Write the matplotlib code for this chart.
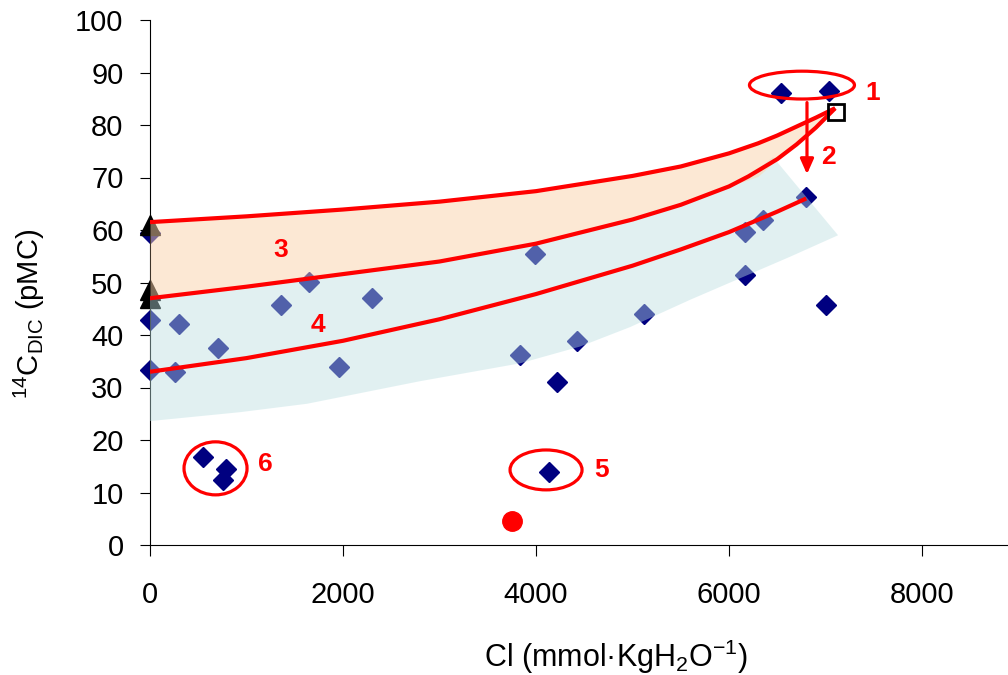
import matplotlib.pyplot as plt
from matplotlib.patches import Ellipse, Polygon

plt.rcParams['font.family'] = ['Liberation Sans', 'DejaVu Sans']
plt.rcParams['mathtext.fontset'] = 'custom'
plt.rcParams['mathtext.rm'] = 'Liberation Sans'
plt.rcParams['mathtext.it'] = 'Liberation Sans:italic'

# samples (diamonds)
cl = [0, 0, 0, 300, 260, 705, 1357, 1648, 1958, 2300, 3990, 3834, 4218, 4425,
      5119, 6166, 6352, 6166, 6798, 7005, 6539, 7036, 4135, 549, 788, 756]
c14 = [33.3, 42.9, 59.5, 42.1, 33.0, 37.5, 45.7, 50.1, 33.9, 47.0, 55.4, 36.2, 31.0, 38.9,
       44.0, 59.6, 61.9, 51.4, 66.3, 45.7, 86.1, 86.5, 13.9, 16.8, 14.5, 12.4]

# end members
tri_x = [0, 0, 0]
tri_y = [61.0, 48.5, 47.0]
sq_x = [7109]
sq_y = [82.5]
dot_x = [3751]
dot_y = [4.6]

# mixing curves
up_x = [0, 1000, 2000, 3000, 4000, 5000, 5500, 6000, 6300, 6500, 6700, 6900, 7100]
up_y = [61.5, 62.6, 63.9, 65.4, 67.4, 70.3, 72.1, 74.6, 76.5, 78.0, 79.7, 81.4, 83.2]
mid_x = [0, 1000, 2000, 3000, 4000, 5000, 5500, 6000, 6200, 6500, 6700, 6900, 7100]
mid_y = [47.0, 49.2, 51.6, 54.0, 57.4, 62.0, 64.8, 68.3, 70.2, 73.5, 76.3, 79.5, 83.2]
low_x = [0, 1000, 2000, 3000, 4000, 5000, 5500, 6000, 6500, 6800]
low_y = [33.0, 35.6, 38.9, 43.0, 47.8, 53.2, 56.3, 59.6, 63.5, 66.0]

# lower edge of the blue band (right to left)
band_x = [7130, 6632, 5596, 4974, 4456, 3834, 2798, 1627, 933, 0]
band_y = [59.0, 54.9, 46.7, 41.5, 37.8, 34.6, 31.2, 26.9, 25.3, 23.6]

fig = plt.figure(figsize=(10.08, 6.75), dpi=100)
ax = fig.add_axes([150/1008, 1-545/675, 1-150/1008, (545-20)/675])

ax.plot(cl, c14, 'D', color='#000080', ms=10, mec='#000080', clip_on=False, zorder=2)
ax.plot(tri_x, tri_y, '^', color='black', ms=14, clip_on=False, zorder=2)

# blue band drawn over the points
top = [(x, y) for x, y in zip(mid_x, mid_y) if x <= 6450]
verts = top + [(6456, 73.9)] + list(zip(band_x, band_y))
ax.add_patch(Polygon(verts, closed=True, facecolor=(187/255, 223/255, 225/255),
                     alpha=0.44, edgecolor='none', zorder=3))
ax.fill_between(up_x, up_y, mid_y, color=(251/255, 211/255, 171/255),
                alpha=0.5, lw=0, zorder=3)

for xs, ys in [(up_x, up_y), (mid_x, mid_y), (low_x, low_y)]:
    ax.plot(xs, ys, color='red', lw=3, zorder=4, solid_capstyle='butt')

ax.plot(sq_x, sq_y, 's', mfc='none', mec='black', ms=11, mew=2, zorder=5)
ax.plot(dot_x, dot_y, 'o', color='red', ms=14, zorder=5)

for cx, cy, w, h in [(6756, 87.6, 1088, 5.3), (4104, 14.3, 746, 7.6), (679, 14.6, 653, 10.1)]:
    ax.add_patch(Ellipse((cx, cy), w, h, fill=False, edgecolor='red', lw=2.3, zorder=5))

ax.annotate('', xy=(6808, 70.1), xytext=(6808, 84.8),
            arrowprops=dict(arrowstyle='-|>,head_width=0.4,head_length=0.9',
                            color='red', lw=2.3), zorder=5)

labels = [('1', 7492, 86.1), ('2', 7026, 73.9), ('3', 1357, 56.2),
          ('4', 1741, 41.9), ('5', 4684, 14.3), ('6', 1192, 15.4)]
for t, x, y in labels:
    ax.text(x, y, t, color='red', fontsize=19, fontweight='bold',
            ha='center', va='center', zorder=6)

ax.set_xlim(0, 8891)
ax.set_ylim(0, 100)
ax.set_xticks([0, 2000, 4000, 6000, 8000])
ax.set_yticks(range(0, 101, 10))
ax.spines['top'].set_visible(False)
ax.spines['right'].set_visible(False)
ax.tick_params(axis='y', direction='out', length=7, labelsize=21, pad=12)
ax.tick_params(axis='x', direction='out', length=8, labelsize=21, pad=18)

fig.text(616/1008, 1-657/675, 'Cl (mmol·KgH$_2$O$^{-1}$)', fontsize=22,
         ha='center', va='center')
fig.text(29/1008, 1-314/675, r'$^{14}$C$_{\mathrm{DIC}}$ (pMC)', fontsize=21,
         rotation=90, ha='center', va='center')

plt.savefig('out.png', dpi=100)
